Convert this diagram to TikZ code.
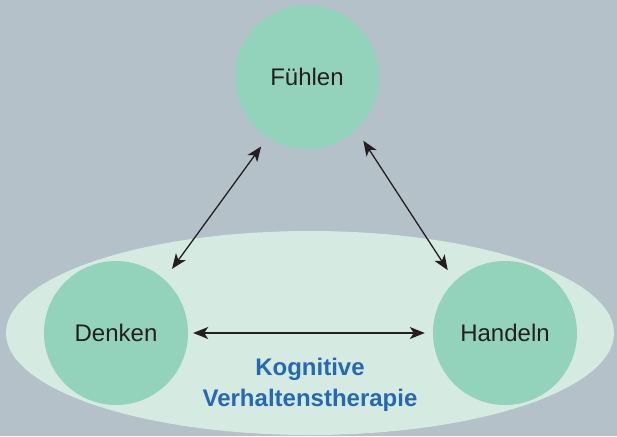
\documentclass[tikz,border=0pt]{standalone}
\usepackage{fontspec}
\setmainfont{Liberation Sans}
\usetikzlibrary{arrows.meta}
\definecolor{bgc}{RGB}{180,193,201}
\definecolor{ellc}{RGB}{213,235,226}
\definecolor{circc}{RGB}{148,211,187}
\definecolor{bluec}{RGB}{37,104,180}
\definecolor{arrc}{RGB}{35,31,32}
\tikzset{
  bubble/.style={circle, fill=circc, minimum size=144pt, inner sep=0pt,
    font=\fontsize{24}{28}\selectfont, text=arrc},
  biarrow/.style={arrc, line width=1.3pt,
    {Stealth[length=15pt,width=12pt,inset=4pt]}-{Stealth[length=15pt,width=12pt,inset=4pt]}},
  bluetext/.style={text=bluec, font=\fontsize{24}{28}\selectfont\bfseries, inner sep=0pt}
}
\begin{document}
\begin{tikzpicture}[x=1pt,y=-1pt]
\useasboundingbox (0,0) rectangle (617,436);
\fill[bgc] (0,0) rectangle (617,436);
\fill[ellc] (310,333) ellipse [x radius=304pt, y radius=102pt];
\node[bubble] (F) at (307,77) {Fühlen};
\node[bubble] (D) at (116,333) {Denken};
\node[bubble] (H) at (505,333) {Handeln};
\node[bluetext, anchor=base] (k1) at (310,375) {Kognitive};
\node[bluetext, anchor=base] (k2) at (310,406) {Verhaltenstherapie};
\draw[biarrow, shorten <=11pt, shorten >=13pt] (F.237) -- (D.48);
\draw[biarrow, shorten <=13pt, shorten >=13pt] (F.313) -- (H.134);
\draw[biarrow, shorten <=5pt, shorten >=8pt] (D.east) -- (H.west);
\end{tikzpicture}
\end{document}
